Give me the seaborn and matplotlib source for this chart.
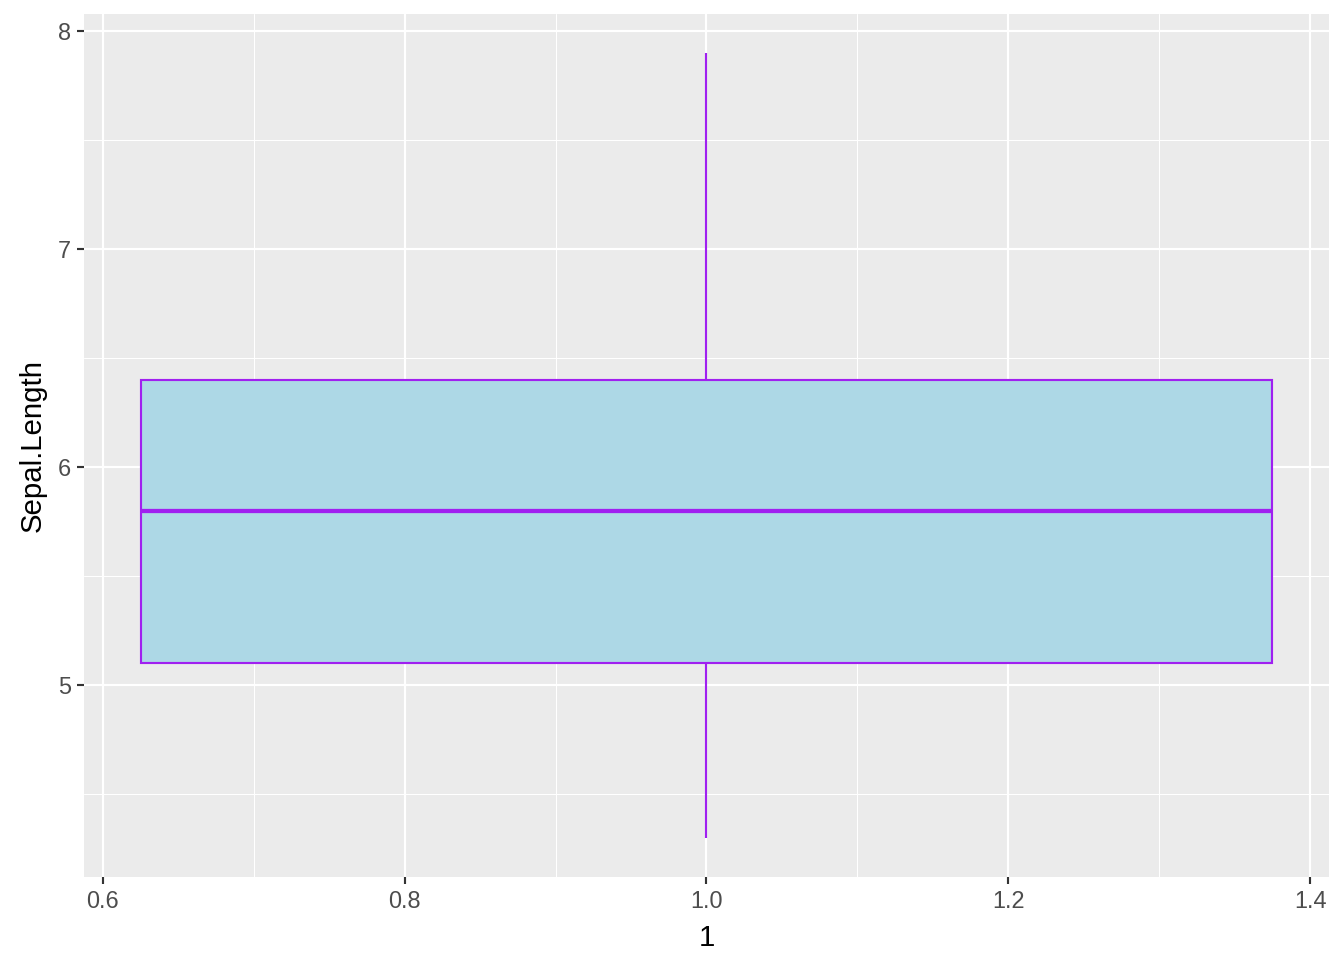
import matplotlib
matplotlib.use("Agg")
import matplotlib.pyplot as plt
import seaborn as sns
import pandas as pd

# Data (five-number summary of Sepal.Length)
group = [1, 1, 1, 1, 1]
sepal_length = [4.3, 5.1, 5.8, 6.4, 7.9]
x_ticks = [0.6, 0.8, 1.0, 1.2, 1.4]
x_tick_labels = ["0.6", "0.8", "1.0", "1.2", "1.4"]
y_ticks = [5, 6, 7, 8]
y_tick_labels = ["5", "6", "7", "8"]
x_minor = [0.7, 0.9, 1.1, 1.3]
y_minor = [4.5, 5.5, 6.5, 7.5]

df = pd.DataFrame({"g": group, "Sepal.Length": sepal_length})

sns.set_theme(style="darkgrid")
plt.rcParams["font.family"] = ["Liberation Sans", "DejaVu Sans"]

fig = plt.figure(figsize=(7, 5), dpi=192)
ax = fig.add_axes([0.0625, 0.0865, 0.9263, 0.8989])
ax.set_facecolor("#EBEBEB")

purple = "#A020F0"
lw = 0.8
sns.boxplot(data=df, x="g", y="Sepal.Length", native_scale=True, orient="x",
            width=0.75, color="#ADD8E6", saturation=1, linecolor=purple,
            linewidth=lw, showcaps=False, fliersize=0, whis=1.5,
            medianprops=dict(color=purple, linewidth=1.6), ax=ax)

ax.set_xlim(0.5875, 1.4125)
ax.set_ylim(4.12, 8.08)
ax.set_xticks(x_ticks)
ax.set_xticklabels(x_tick_labels)
ax.set_yticks(y_ticks)
ax.set_yticklabels(y_tick_labels)
ax.set_xticks(x_minor, minor=True)
ax.set_yticks(y_minor, minor=True)

ax.grid(which="major", color="white", linewidth=0.8)
ax.grid(which="minor", color="white", linewidth=0.4)
ax.set_axisbelow(True)
for s in ax.spines.values():
    s.set_visible(False)

ax.tick_params(axis="both", which="major", length=2.75, width=0.8,
               color="#333333", labelcolor="#4D4D4D", labelsize=8.8, pad=2.2,
               bottom=True, left=True)
ax.tick_params(axis="both", which="minor", length=0, bottom=False, left=False)

ax.set_xlabel("1", fontsize=11, color="black", labelpad=4)
ax.set_ylabel("Sepal.Length", fontsize=11, color="black", labelpad=4)

fig.savefig("out.png", dpi=192)
